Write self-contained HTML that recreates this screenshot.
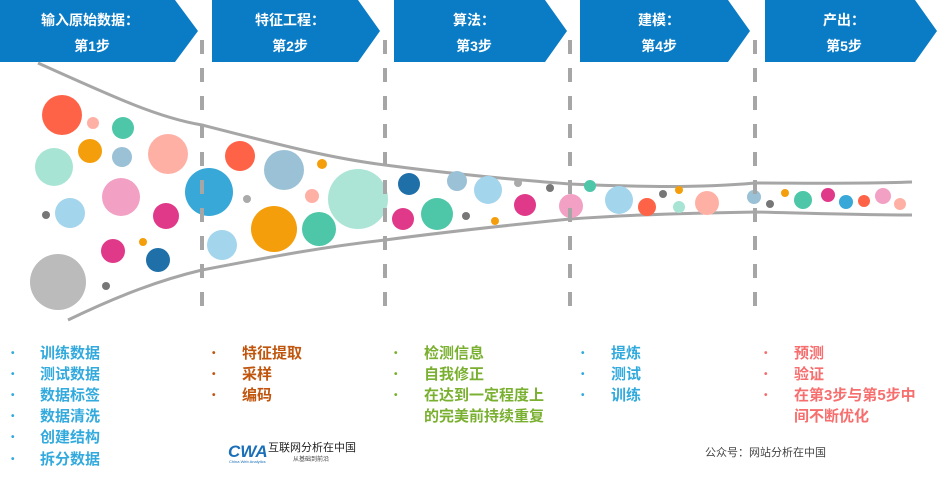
<!DOCTYPE html>
<html><head><meta charset="utf-8"><style>
body{margin:0;background:#fff;width:937px;height:477px;overflow:hidden;font-family:"Liberation Sans","Noto Sans CJK SC",sans-serif}
</style></head><body>
<svg width="937" height="477" viewBox="0 0 937 477" xmlns="http://www.w3.org/2000/svg" font-family="Liberation Sans, Noto Sans CJK SC, sans-serif">
<g fill="#0a7cc6">
<polygon points="0,0 175,0 198,31 175,62 0,62"/>
<polygon points="212,0 358,0 380,31 358,62 212,62"/>
<polygon points="394,0 545,0 567,31 545,62 394,62"/>
<polygon points="580,0 728,0 750,31 728,62 580,62"/>
<polygon points="765,0 915,0 937,31 915,62 765,62"/>
</g>
<g fill="#fff" font-weight="bold" font-size="14" text-anchor="middle">
<text x="90" y="25">输入原始数据：</text><text x="92" y="51">第1步</text>
<text x="290" y="25">特征工程：</text><text x="290" y="51">第2步</text>
<text x="474" y="25">算法：</text><text x="474" y="51">第3步</text>
<text x="659" y="25">建模：</text><text x="659" y="51">第4步</text>
<text x="844" y="25">产出：</text><text x="844" y="51">第5步</text>
</g>
<g fill="none" stroke="#a6a6a6" stroke-width="3">
<path d="M38,63 C120,100 160,118 202,125 C280,145 330,158 385,165 C460,175 520,180 570,184 C640,187 700,188 755,183 C800,183 860,184 912,182"/>
<path d="M68,320 C120,295 160,280 202,270 C280,255 330,246 385,240 C460,230 520,224 570,219 C640,214 700,213 755,212 C800,213 860,215 912,215"/>
</g>
<g>
<circle cx="62" cy="115" r="20" fill="#ff6347"/><circle cx="93" cy="123" r="6" fill="#ffb0a5"/><circle cx="123" cy="128" r="11" fill="#4dc7a8"/>
<circle cx="90" cy="151" r="12" fill="#f59e0b"/><circle cx="122" cy="157" r="10" fill="#9bc1d6"/><circle cx="168" cy="154" r="20" fill="#ffb0a5"/>
<circle cx="54" cy="167" r="19" fill="#a8e4d4"/><circle cx="121" cy="197" r="19" fill="#f2a0c4"/><circle cx="166" cy="216" r="13" fill="#e0398a"/>
<circle cx="46" cy="215" r="4" fill="#777"/><circle cx="70" cy="213" r="15" fill="#a3d5ed"/><circle cx="113" cy="251" r="12" fill="#e0398a"/>
<circle cx="143" cy="242" r="4" fill="#f59e0b"/><circle cx="158" cy="260" r="12" fill="#1f6fa8"/><circle cx="58" cy="282" r="28" fill="#bbb"/><circle cx="106" cy="286" r="4" fill="#777"/>
<circle cx="209" cy="192" r="24" fill="#38a8d8"/><circle cx="240" cy="156" r="15" fill="#ff6347"/><circle cx="284" cy="170" r="20" fill="#9bc1d6"/>
<circle cx="322" cy="164" r="5" fill="#f59e0b"/><circle cx="247" cy="199" r="4" fill="#aaa"/><circle cx="274" cy="229" r="23" fill="#f59e0b"/>
<circle cx="312" cy="196" r="7" fill="#ffb0a5"/><circle cx="319" cy="229" r="17" fill="#4dc7a8"/><circle cx="222" cy="245" r="15" fill="#a3d5ed"/>
<circle cx="409" cy="184" r="11" fill="#1f6fa8"/><circle cx="457" cy="181" r="10" fill="#9bc1d6"/><circle cx="488" cy="190" r="14" fill="#a3d5ed"/>
<circle cx="403" cy="219" r="11" fill="#e0398a"/><circle cx="437" cy="214" r="16" fill="#4dc7a8"/><circle cx="466" cy="216" r="4" fill="#777"/>
<circle cx="518" cy="183" r="4" fill="#aaa"/><circle cx="495" cy="221" r="4" fill="#f59e0b"/><circle cx="525" cy="205" r="11" fill="#e0398a"/>
<circle cx="550" cy="188" r="4" fill="#777"/><circle cx="571" cy="206" r="12" fill="#f2a0c4"/><circle cx="590" cy="186" r="6" fill="#4dc7a8"/>
<circle cx="619" cy="200" r="14" fill="#a3d5ed"/><circle cx="647" cy="207" r="9" fill="#ff6347"/><circle cx="663" cy="194" r="4" fill="#777"/>
<circle cx="679" cy="190" r="4" fill="#f59e0b"/><circle cx="679" cy="207" r="6" fill="#a8e4d4"/><circle cx="707" cy="203" r="12" fill="#ffb0a5"/>
<circle cx="754" cy="197" r="7" fill="#9bc1d6"/><circle cx="750" cy="204" r="0" fill="#777"/><circle cx="770" cy="204" r="4" fill="#777"/>
<circle cx="760" cy="193" r="0" fill="#f59e0b"/><circle cx="785" cy="193" r="4" fill="#f59e0b"/><circle cx="803" cy="200" r="9" fill="#4dc7a8"/>
<circle cx="828" cy="195" r="7" fill="#e0398a"/><circle cx="846" cy="202" r="7" fill="#38a8d8"/><circle cx="864" cy="201" r="6" fill="#ff6347"/>
<circle cx="883" cy="196" r="8" fill="#f2a0c4"/><circle cx="900" cy="204" r="6" fill="#ffb0a5"/>
<circle cx="358" cy="199" r="30" fill="#a8e4d4" fill-opacity="0.95"/>
</g>
<g stroke="#a6a6a6" stroke-width="4" stroke-dasharray="14,14">
<line x1="202" y1="40" x2="202" y2="308"/><line x1="385" y1="40" x2="385" y2="308"/>
<line x1="570" y1="40" x2="570" y2="308"/><line x1="755" y1="40" x2="755" y2="308"/>
</g>
<g font-size="15" font-weight="bold">
<g fill="#33aadd"><text x="40" y="358">训练数据</text><text x="40" y="379">测试数据</text><text x="40" y="400">数据标签</text><text x="40" y="421">数据清洗</text><text x="40" y="442">创建结构</text><text x="40" y="464">拆分数据</text>
<text x="11" y="356" font-size="10">•</text><text x="11" y="377" font-size="10">•</text><text x="11" y="398" font-size="10">•</text><text x="11" y="419" font-size="10">•</text><text x="11" y="440" font-size="10">•</text><text x="11" y="462" font-size="10">•</text></g>
<g fill="#c0550d"><text x="242" y="358">特征提取</text><text x="242" y="379">采样</text><text x="242" y="400">编码</text>
<text x="212" y="356" font-size="10">•</text><text x="212" y="377" font-size="10">•</text><text x="212" y="398" font-size="10">•</text></g>
<g fill="#7ab030"><text x="424" y="358">检测信息</text><text x="424" y="379">自我修正</text><text x="424" y="400">在达到一定程度上</text><text x="424" y="421">的完美前持续重复</text>
<text x="394" y="356" font-size="10">•</text><text x="394" y="377" font-size="10">•</text><text x="394" y="398" font-size="10">•</text></g>
<g fill="#33aadd"><text x="611" y="358">提炼</text><text x="611" y="379">测试</text><text x="611" y="400">训练</text>
<text x="581" y="356" font-size="10">•</text><text x="581" y="377" font-size="10">•</text><text x="581" y="398" font-size="10">•</text></g>
<g fill="#f76e6e"><text x="794" y="358">预测</text><text x="794" y="379">验证</text><text x="794" y="400">在第3步与第5步中</text><text x="794" y="421">间不断优化</text>
<text x="764" y="356" font-size="10">•</text><text x="764" y="377" font-size="10">•</text><text x="764" y="398" font-size="10">•</text></g>
</g>
<text x="228" y="457" font-size="17" font-weight="bold" font-style="italic" fill="#1a6fb8">CWA</text>
<text x="268" y="451" font-size="11" fill="#222">互联网分析在中国</text>
<text x="293" y="461" font-size="6" fill="#444">从基础到前沿</text>
<text x="229" y="463" font-size="4" fill="#1a6fb8">China Web Analytics</text>
<text x="705" y="456" font-size="11" fill="#444">公众号：网站分析在中国</text>
</svg>
</body></html>
